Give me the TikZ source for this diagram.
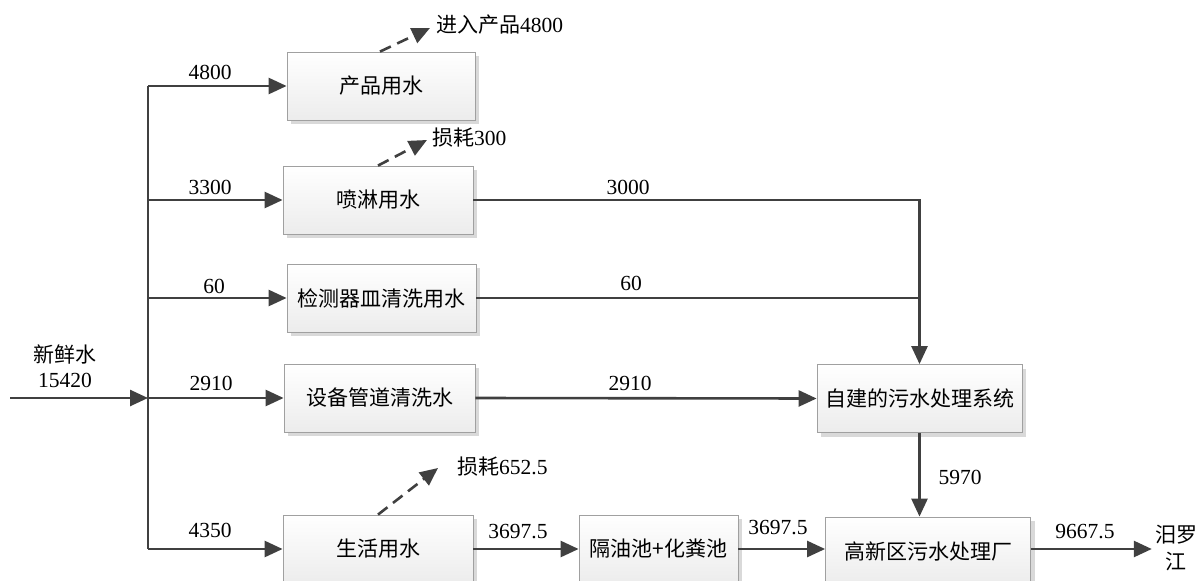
\documentclass[tikz,border=0pt]{standalone}
\usepackage{fontspec}
\setmainfont{Liberation Serif}
\newfontfamily\cjk{Noto Sans CJK SC}
\usetikzlibrary{arrows.meta,shadows}
\definecolor{lnc}{HTML}{404040}
\definecolor{bd}{HTML}{A0A0A0}
\definecolor{shc}{HTML}{D9D9D9}
\definecolor{bf}{HTML}{ECECEC}
\begin{document}
\begin{tikzpicture}[x=1pt,y=-1pt,
  box/.style={draw=bd, line width=0.8pt, top color=white, bottom color=bf,
    drop shadow={shadow xshift=4pt, shadow yshift=-4pt, fill=shc, opacity=1},
    minimum height=68pt, inner sep=0pt, font=\cjk\fontsize{21}{24}\selectfont},
  wire/.style={draw=lnc, line width=2.6pt},
  arr/.style={wire, -{Triangle[length=18pt,width=16pt]}},
  dsh/.style={arr, dash pattern=on 12pt off 7pt},
  num/.style={font=\fontsize{21.5}{24}\selectfont, inner sep=0pt},
  cn/.style={font=\cjk\fontsize{21}{27}\selectfont, inner sep=0pt}]
\useasboundingbox (0,0) rectangle (1197,581);
\clip (0,0) rectangle (1197,581);

% boxes
\node[box, minimum width=188pt] (b1) at (381,86) {产品用水};
\node[box, minimum width=190pt] (b2) at (378,200) {喷淋用水};
\node[box, minimum width=189pt] (b3) at (381.5,298) {检测器皿清洗用水};
\node[box, minimum width=191pt] (b4) at (379.5,398) {设备管道清洗水};
\node[box, minimum width=190pt] (b5) at (378,549) {生活用水};
\node[box, minimum width=159pt] (gy) at (658.5,549) {隔油池+化粪池};
\node[box, minimum width=205pt] (gx) at (928,551) {高新区污水处理厂};
\node[box, minimum width=205pt] (zj) at (919.5,398.5) {自建的污水处理系统};

% free texts
\node[cn] (xx) at (65,355) {新鲜水};
\node[num] (xn) at (65,380) {15420};
\node[cn, anchor=west] (t1) at (436,25) {进入产品{\rmfamily\fontsize{21.5}{24}\selectfont 4800}};
\node[cn, anchor=west] (t2) at (432,138) {损耗{\rmfamily\fontsize{21.5}{24}\selectfont 300}};
\node[cn, anchor=west] (t5) at (457,467) {损耗{\rmfamily\fontsize{21.5}{24}\selectfont 652.5}};
\node[cn, align=center] (mlj) at (1176,548) {汨罗\\江};

% trunk and inlet
\coordinate (in) at (10,398);
\coordinate (tt) at (148,86);
\coordinate (tb) at (148,549);
\draw[wire] (tt) -- (tb);
\draw[arr] (in) -- (in -| tt);

% branches
\draw[arr] (tt |- b1.west) -- (b1.west);
\draw[arr] (tt |- b2.west) -- (b2.west);
\draw[arr] (tt |- b3.west) -- (b3.west);
\draw[arr] (tt |- b4.west) -- (b4.west);
\draw[arr] (tt |- b5.west) -- (b5.west);

% losses
\coordinate (d1) at (430,28);
\coordinate (d2) at (427,140);
\coordinate (d5) at (438,468);
\draw[dsh] ([xshift=-1pt]b1.north) -- (d1);
\draw[dsh] (b2.north) -- (d2);
\draw[dsh] (b5.north) -- (d5);

% to treatment
\draw[arr] (b2.east) -| (zj.north);
\draw[wire] (b3.east) -- (b3.east -| zj.north);
\draw[arr] (b4.east) -- (zj.west);
\draw[arr] (zj.south) -- (zj.south |- gx.north);
\draw[arr] (b5.east) -- (gy.west);
\draw[arr] (gy.east) -- (gy.east -| gx.west);
\draw[arr] (gx.east |- gy.east) -- ([xshift=-3pt]mlj.west |- gy.east);

% numbers
\node[num] at (210,72) {4800};
\node[num] at (210,187) {3300};
\node[num] at (214,286) {60};
\node[num] at (211,383) {2910};
\node[num] at (210,530) {4350};
\node[num] at (628,187) {3000};
\node[num] at (631,283) {60};
\node[num] at (630,383) {2910};
\node[num] at (960,477) {5970};
\node[num] at (518,532) {3697.5};
\node[num] at (778,528) {3697.5};
\node[num] at (1085,532) {9667.5};
\end{tikzpicture}
\end{document}
